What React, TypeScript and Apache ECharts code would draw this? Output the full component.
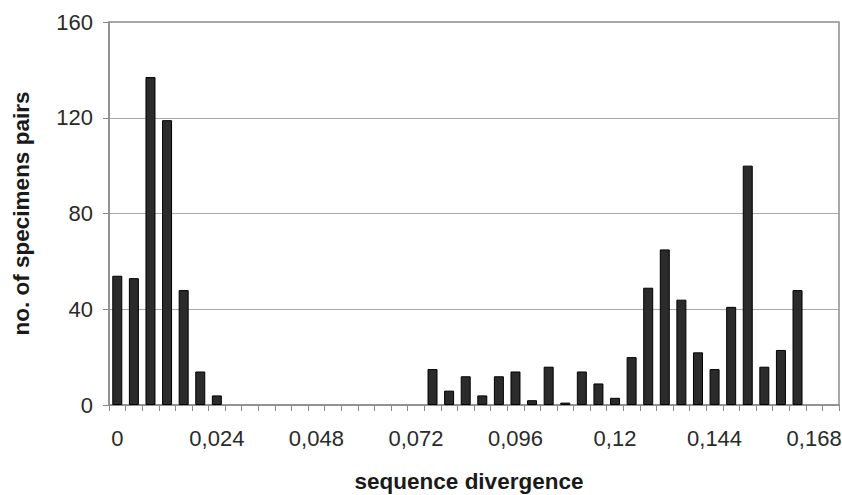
import React, { useEffect, useRef } from "react";
import * as echarts from "echarts";

const categories: string[] = [
  "0", "0,004", "0,008", "0,012", "0,016", "0,02", "0,024", "0,028", "0,032", "0,036",
  "0,04", "0,044", "0,048", "0,052", "0,056", "0,06", "0,064", "0,068", "0,072", "0,076",
  "0,08", "0,084", "0,088", "0,092", "0,096", "0,1", "0,104", "0,108", "0,112", "0,116",
  "0,12", "0,124", "0,128", "0,132", "0,136", "0,14", "0,144", "0,148", "0,152", "0,156",
  "0,16", "0,164", "0,168", "0,172",
];

const pairCounts: number[] = [
  54, 53, 137, 119, 48, 14, 4, 0, 0, 0,
  0, 0, 0, 0, 0, 0, 0, 0, 0, 15,
  6, 12, 4, 12, 14, 2, 16, 1, 14, 9,
  3, 20, 49, 65, 44, 22, 15, 41, 100, 16,
  23, 48, 0, 0,
];

const xTickLabels: string[] = ["0", "0,024", "0,048", "0,072", "0,096", "0,12", "0,144", "0,168"];

const yTicks = { min: 0, max: 160, interval: 40 };

export default function App() {
  const ref = useRef<HTMLDivElement>(null);
  useEffect(() => {
    if (!ref.current) return;
    const chart = echarts.init(ref.current, null, { renderer: "svg" });
    const font = "Liberation Sans, Arial, Helvetica, sans-serif";
    chart.setOption({
      animation: false,
      backgroundColor: "#ffffff",
      textStyle: { fontFamily: font },
      grid: {
        left: 109,
        right: 3,
        top: 22,
        bottom: 90,
        containLabel: false,
        outerBoundsMode: "none",
        show: true,
        borderColor: "#8c8c8c",
        borderWidth: 1.5,
        backgroundColor: "transparent",
      },
      xAxis: {
        type: "category",
        data: categories,
        boundaryGap: true,
        name: "sequence divergence",
        nameLocation: "middle",
        nameGap: 65,
        nameTextStyle: {
          fontSize: 22.5,
          fontWeight: "bold",
          color: "#1a1a1a",
          fontFamily: font,
          padding: [0, 10, 0, 0],
        },
        axisLine: { show: true, lineStyle: { color: "#8c8c8c", width: 1.5 } },
        axisTick: { show: true, interval: 0, length: 6, alignWithLabel: false, lineStyle: { color: "#8a8a8a", width: 1 } },
        axisLabel: {
          interval: 0,
          margin: 22,
          fontSize: 22,
          color: "#2a2a2a",
          fontFamily: font,
          formatter: (v: string) => (xTickLabels.indexOf(v) >= 0 ? v : ""),
        },
        splitLine: { show: false },
      },
      yAxis: {
        type: "value",
        min: yTicks.min,
        max: yTicks.max,
        interval: yTicks.interval,
        name: "no. of specimens pairs",
        nameLocation: "middle",
        nameGap: 76,
        nameTextStyle: { fontSize: 22.5, fontWeight: "bold", color: "#1a1a1a", fontFamily: font },
        axisLine: { show: true, lineStyle: { color: "#8c8c8c", width: 1.5 } },
        axisTick: { show: true, length: 6, lineStyle: { color: "#8a8a8a", width: 1 } },
        axisLabel: { margin: 16, fontSize: 22, color: "#2a2a2a", fontFamily: font },
        splitLine: { show: true, lineStyle: { color: "#a8a8a8", width: 1.2 } },
      },
      series: [
        {
          type: "bar",
          data: pairCounts.map((v) =>
            v === 0 ? { value: v, itemStyle: { borderWidth: 0, opacity: 0 } } : v
          ),
          barWidth: 10,
          itemStyle: { color: "#2b2b2b", borderColor: "#000", borderWidth: 1 },
        },
      ],
    });
    return () => chart.dispose();
  }, []);
  return (
    <div
      ref={ref}
      style={{ position: "fixed", left: 0, top: 0, width: 842, height: 495 }}
    />
  );
}
